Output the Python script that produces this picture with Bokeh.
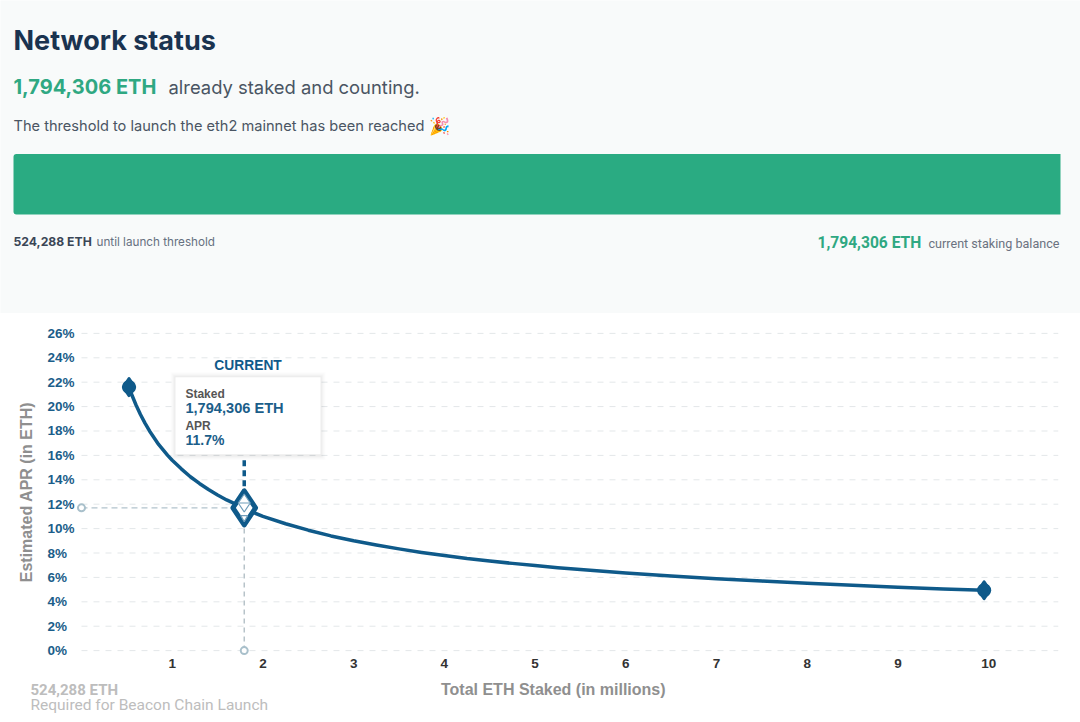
from bokeh.embed import file_html
from bokeh.resources import INLINE
from bokeh.layouts import column
from bokeh.models import Range1d, Label, FixedTicker
from bokeh.plotting import figure

# ---- data ----
staked_millions = [0.524, 0.55, 0.6, 0.65, 0.7, 0.75, 0.8, 0.85, 0.9, 0.95, 1.0, 1.1, 1.2, 1.3, 1.4, 1.5, 1.6, 1.7,
                   1.794, 1.9, 2.0, 2.25, 2.5, 2.75, 3.0, 3.25, 3.5, 3.75, 4.0, 4.25, 4.5, 4.75, 5.0, 5.25, 5.5, 5.75,
                   6.0, 6.5, 7.0, 7.5, 8.0, 8.5, 9.0, 9.5, 9.95]
apr_percent = [21.6, 21.05, 20.15, 19.35, 18.65, 18.0, 17.45, 16.9, 16.45, 16.0, 15.6, 14.9, 14.25, 13.7, 13.2, 12.75, 12.35, 12.0,
               11.7, 11.3, 11.0, 10.4, 9.87, 9.4, 9.0, 8.65, 8.34, 8.05, 7.8, 7.55, 7.35, 7.15, 6.98, 6.8, 6.65, 6.5,
               6.37, 6.12, 5.9, 5.7, 5.52, 5.35, 5.2, 5.06, 4.95]
end_x = [0.524, 9.95]
end_y = [21.6, 4.95]
current_x = 1.794
current_y = 11.7
x_ticks = [1, 2, 3, 4, 5, 6, 7, 8, 9, 10]
y_ticks = [0, 2, 4, 6, 8, 10, 12, 14, 16, 18, 20, 22, 24, 26]
y_tick_labels = ["0%", "2%", "4%", "6%", "8%", "10%", "12%", "14%", "16%", "18%", "20%", "22%", "24%", "26%"]
threshold_eth = [524288]

BAND = "#f8fafa"
GREEN = "#2aab82"
BLUE = "#0f5a8a"
TICKBLUE = "#1b5e8a"
SANS = "Liberation Sans"
X_MAX = 10.77

# ---- header panel ----
top = figure(width=1080, height=313, output_backend="svg", toolbar_location=None,
             x_range=Range1d(0, 1080), y_range=Range1d(313, 0),
             min_border=0, background_fill_color=BAND, border_fill_color=BAND, outline_line_color=None)
top.axis.visible = False
top.grid.visible = False
top.extra_x_ranges = {"eth": Range1d(-6510, 534300)}
top.extra_y_ranges = {"row": Range1d(-2.136, 3.037)}
top.hbar(y=[0], left=[0], right=threshold_eth, height=1, x_range_name="eth", y_range_name="row",
         fill_color=GREEN, line_color=None, border_radius=(3, 0, 0, 3))


def t(fig, x, y, text, size, color, font="Inter", style="normal", align="left", angle=0):
    fig.add_layout(Label(x=x, y=y, text=text, text_font=font, text_font_size=f"{size}px",
                         text_color=color, text_font_style=style, text_align=align,
                         text_baseline="middle", angle=angle))


t(top, 13, 40, "Network status", 27, "#1a3350", style="bold")
t(top, 13, 86.5, "1,794,306 ETH", 20, "#2fa882", style="bold")
t(top, 168, 86, "already staked and counting.", 18.4, "#4a5563")
t(top, 13, 125, "The threshold to launch the eth2 mainnet has been reached", 14.6, "#4a5563")
t(top, 428, 125, "🎉", 17, "#e0952c")
t(top, 13, 241, "524,288 ETH", 12.2, "#3a4656", style="bold")
t(top, 96, 241, "until launch threshold", 11.7, "#667080")
t(top, 817, 242, "1,794,306 ETH", 15.6, "#2fa882", font="Roboto", style="bold")
t(top, 928, 243, "current staking balance", 12.6, "#6b7280", font="Roboto")

# ---- APR chart ----
p = figure(width=1080, height=367, output_backend="svg", toolbar_location=None,
           x_range=Range1d(-0.055, X_MAX), y_range=Range1d(-0.4, 26.4),
           min_border_left=76, min_border_right=22, min_border_top=15, min_border_bottom=25,
           background_fill_color="white", border_fill_color="white", outline_line_color=None)

p.xaxis.ticker = FixedTicker(ticks=x_ticks)
p.xaxis.axis_line_color = None
p.xaxis.major_tick_line_color = None
p.xaxis.minor_tick_line_color = None
p.xaxis.major_label_text_font = SANS
p.xaxis.major_label_text_font_size = "13.5px"
p.xaxis.major_label_text_font_style = "bold"
p.xaxis.major_label_text_color = "#333333"
p.xaxis.major_label_standoff = -3

p.yaxis.ticker = FixedTicker(ticks=y_ticks)
p.yaxis.axis_line_color = None
p.yaxis.major_tick_line_color = None
p.yaxis.minor_tick_line_color = None
p.yaxis.major_label_text_font = SANS
p.yaxis.major_label_text_font_size = "13.5px"
p.yaxis.major_label_text_font_style = "bold"
p.yaxis.major_label_text_color = TICKBLUE
p.yaxis.major_label_standoff = -4
# single-digit labels are left-aligned with the two-digit ones in the reference
p.yaxis.major_label_overrides = {v: (s + "\u2007" if v < 10 else s) for v, s in zip(y_ticks, y_tick_labels)}
p.yaxis.axis_label = "Estimated APR (in ETH)"
p.yaxis.axis_label_text_font = SANS
p.yaxis.axis_label_text_font_size = "16px"
p.yaxis.axis_label_text_font_style = "bold"
p.yaxis.axis_label_text_color = "#8f8f8f"
p.yaxis.axis_label_standoff = 9

p.xgrid.visible = False
p.ygrid.visible = False
gridlines = p.segment(x0=[0] * len(y_ticks), y0=y_ticks, x1=[X_MAX] * len(y_ticks), y1=y_ticks,
                      line_color="#e3e7e9", line_width=1)
gridlines.glyph.line_dash = [6, 6]

# tooltip card with soft shadow
card_l, card_r, card_t, card_b = 1.036, 2.635, 22.4, 16.09
for grow, alpha in [(5, 0.012), (4, 0.015), (3, 0.018), (2, 0.022), (1, 0.025)]:
    p.quad(left=[card_l - grow / 90.7], right=[card_r + grow / 90.7],
           top=[card_t + grow / 12.2], bottom=[card_b - (grow + 1) / 12.2],
           fill_color="#333333", fill_alpha=alpha, line_color=None)
p.quad(left=[card_l], right=[card_r], top=[card_t], bottom=[card_b], fill_color="white", line_color=None)

# guides to the axes
g1 = p.segment(x0=[0], y0=[current_y], x1=[current_x], y1=[current_y], line_color="#b2c4cd", line_width=1.4)
g1.glyph.line_dash = [6, 4]
g2 = p.segment(x0=[current_x], y0=[0], x1=[current_x], y1=[current_y], line_color="#b2bfc6", line_width=1.4)
g2.glyph.line_dash = [5, 4]
p.scatter([0, current_x], [current_y, 0], marker="circle", size=7, fill_color="white",
          line_color="#a9c0cb", line_width=2)

# stem from the card to the current point
g3 = p.segment(x0=[current_x], y0=[15.6], x1=[current_x], y1=[13.1], line_color=BLUE, line_width=3.5)
g3.glyph.line_dash = [6, 4]

# curve and end points
p.line(staked_millions, apr_percent, line_color=BLUE, line_width=3.5, line_join="round")
p.scatter(end_x, end_y, marker="circle", size=14, fill_color=BLUE, line_color=None)
p.scatter(end_x, end_y, marker="diamond", size=17, fill_color=BLUE, line_color=BLUE, line_width=3, line_join="round")

# current point
p.scatter([current_x], [current_y], marker="diamond", size=34, fill_color="white", line_color=BLUE,
          line_width=5, line_join="round")
p.scatter([current_x], [current_y + 0.4], marker="diamond", size=18, fill_color="#ffffff", line_color="#6f9dba",
          line_width=1.2)
p.scatter([current_x], [current_y + 0.4], marker="dash", size=10, line_color="#6f9dba", line_width=1.2)
p.scatter([current_x], [current_y - 0.8], marker="inverted_triangle", size=7, fill_color="#ffffff",
          line_color="#6f9dba", line_width=1.2)

t(p, 1.836, 23.35, "CURRENT", 13.8, BLUE, font=SANS, style="bold", align="center")
t(p, 1.146, 21.05, "Staked", 12, "#555555", font=SANS, style="bold")
t(p, 1.146, 19.9, "1,794,306 ETH", 14.6, TICKBLUE, font=SANS, style="bold")
t(p, 1.146, 18.4, "APR", 12, "#555555", font=SANS, style="bold")
t(p, 1.146, 17.3, "11.7%", 14, TICKBLUE, font=SANS, style="bold")

# ---- strip under the chart ----
foot = figure(width=1080, height=42, output_backend="svg", toolbar_location=None,
              x_range=Range1d(0, 1080), y_range=Range1d(722, 680),
              min_border=0, background_fill_color="white", border_fill_color="white", outline_line_color=None)
foot.axis.visible = False
foot.grid.visible = False
foot.line([0], [700], line_color=None)
t(foot, 555, 689, "Total ETH Staked  (in millions)", 16, "#8f8f8f", font=SANS, style="bold", align="center")
t(foot, 30, 689, "524,288 ETH", 15, "#bdbdbd", font="Roboto", style="bold")
t(foot, 30, 704, "Required for Beacon Chain Launch", 15.5, "#bdbdbd", font="Roboto")

page = column(column(top), column(p), column(foot), spacing=0)
open("out.html", "w").write(file_html(page, INLINE))
